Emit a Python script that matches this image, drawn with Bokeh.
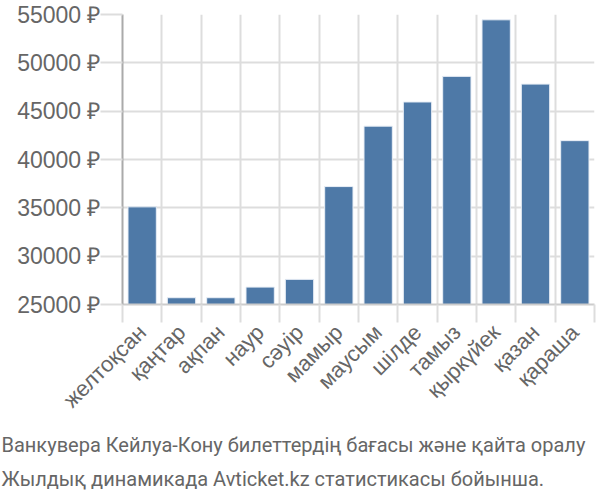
import numpy as np
from math import pi
from bokeh.plotting import figure
from bokeh.models import FixedTicker, Range1d, Title
from bokeh.embed import file_html
from bokeh.resources import INLINE

months = ["желтоқсан", "қаңтар", "ақпан", "наур", "сәуір", "мамыр",
          "маусым", "шілде", "тамыз", "қыркүйек", "қазан", "қараша"]
prices = [35100, 25700, 25700, 26800, 27600, 37200,
          43450, 45950, 48600, 54450, 47800, 41950]
y_ticks = [25000, 30000, 35000, 40000, 45000, 50000, 55000]
caption = ["Ванкувера Кейлуа-Кону билеттердің бағасы және қайта оралу",
           "Жылдық динамикада Avticket.kz статистикасы бойынша."]

n = len(months)
xs = list(range(n))

p = figure(frame_width=472, frame_height=290, output_backend="svg",
           toolbar_location=None, x_range=Range1d(-0.5, n - 0.5),
           y_range=Range1d(y_ticks[0], y_ticks[-1]),
           min_border_left=122, min_border_top=14, min_border_right=6,
           min_border_bottom=10)
p.outline_line_color = None
p.background_fill_color = "white"
p.border_fill_color = "white"

p.vbar(x=xs, top=prices, bottom=y_ticks[0], width=0.72,
       fill_color="#4e79a7", line_color="#e8eef6", line_width=1)

# x axis: labels at centres, ticks/grid at boundaries (minor)
xt = FixedTicker(ticks=xs, minor_ticks=[i - 0.5 for i in range(n + 1)])
p.xaxis.ticker = xt
p.xaxis.major_label_overrides = {i: m for i, m in enumerate(months)}
p.xaxis.major_label_orientation = pi / 4
p.xaxis.major_tick_line_color = None
p.xaxis.minor_tick_out = 18
p.xaxis.minor_tick_in = 0
p.xaxis.minor_tick_line_color = "#dddddd"
p.xaxis.minor_tick_line_width = 2
p.xaxis.axis_line_color = "#cccccc"
p.xaxis.axis_line_width = 2
p.xaxis.major_label_text_font = "Liberation Sans"
p.xaxis.major_label_text_font_size = "22px"
p.xaxis.major_label_text_color = "#666666"
p.xaxis.major_label_standoff = 6
p.xgrid.grid_line_color = None
p.xgrid.minor_grid_line_color = "#dddddd"
p.xgrid.minor_grid_line_width = 2
p.xgrid.ticker = xt

# y axis
p.yaxis.ticker = FixedTicker(ticks=y_ticks)
p.yaxis.major_label_overrides = {v: f"{v} ₽" for v in y_ticks}
p.yaxis.major_tick_out = 22
p.yaxis.major_tick_in = 0
p.yaxis.major_tick_line_color = "#dddddd"
p.yaxis.major_tick_line_width = 2
p.yaxis.minor_tick_line_color = None
p.yaxis.axis_line_color = "#aaaaaa"
p.yaxis.axis_line_width = 2
p.yaxis.major_label_text_font = "Liberation Sans"
p.yaxis.major_label_text_font_size = "23px"
p.yaxis.major_label_text_color = "#666666"
p.yaxis.major_label_standoff = 0
p.ygrid.grid_line_color = "#dddddd"
p.ygrid.grid_line_width = 2

for i, line in enumerate(caption):
    t = Title(text=line, align="left", text_font="Roboto",
              text_font_size="20px", text_color="#666666", text_font_style="normal",
              offset=-121, standoff=12 if i == 0 else 4)
    p.add_layout(t, "below")

open("out.html", "w").write(file_html(p, INLINE))
